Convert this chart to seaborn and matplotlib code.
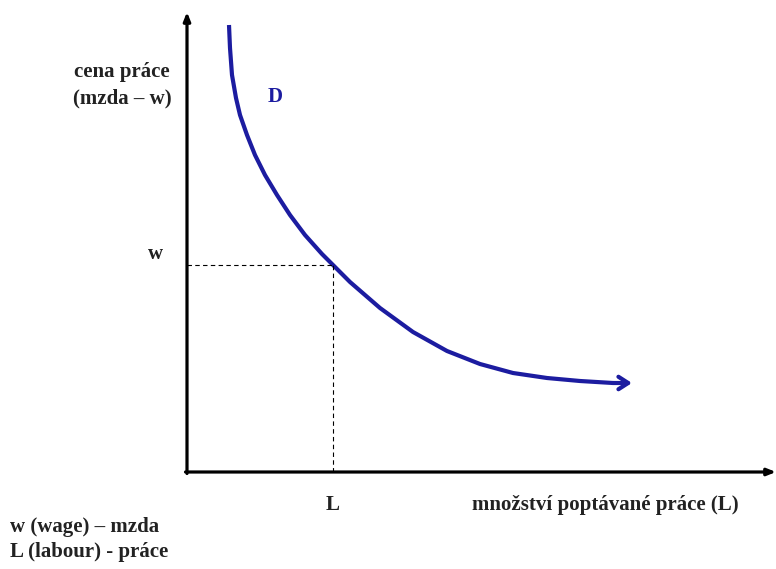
import matplotlib
matplotlib.use("Agg")
import matplotlib.pyplot as plt
import seaborn as sns
import pandas as pd

sns.set_style("white")
plt.rcParams['font.family'] = ['Liberation Serif', 'DejaVu Serif']

# Demand curve D (quantity of labour, wage) in chart units
labour = [42, 43, 45, 49, 53, 60, 68, 78, 90, 103, 118, 135, 146, 163, 193,
          226, 260, 293, 326, 360, 393, 426, 445]
wage = [447, 424, 397, 374, 357, 337, 317, 297, 277, 257, 237, 218, 207, 190,
        164, 140, 121, 108, 99, 94, 91, 89, 89]
eq_L = 146
eq_w = 207
y_axis_top = 460
x_axis_right = 589

curve_color = "#1c1ca0"

fig = plt.figure(figsize=(7.76, 5.69), dpi=100)
ax = fig.add_axes([0, 0, 1, 1])
ax.set_xlim(-187, 589)
ax.set_ylim(-97, 472)
ax.axis('off')

df = pd.DataFrame({"L": labour[:-1], "w": wage[:-1]})
sns.lineplot(data=df, x="L", y="w", sort=False, color=curve_color, lw=3.0,
             ax=ax, solid_capstyle="butt", solid_joinstyle="round")
ax.annotate("", xy=(labour[-1], wage[-1]), xytext=(labour[-2], wage[-2]),
            arrowprops=dict(arrowstyle="->,head_length=0.7,head_width=0.45",
                            color=curve_color, lw=3.0, shrinkA=0, shrinkB=0))

# axes with arrows
ax.annotate("", xy=(0, y_axis_top), xytext=(0, -1.5),
            arrowprops=dict(arrowstyle="-|>,head_length=0.5,head_width=0.2",
                            color="black", lw=2.3, shrinkA=0, shrinkB=0))
ax.annotate("", xy=(x_axis_right, 0), xytext=(-1.5, 0),
            arrowprops=dict(arrowstyle="-|>,head_length=0.5,head_width=0.2",
                            color="black", lw=2.3, shrinkA=0, shrinkB=0))

# dashed guides
ax.plot([0, eq_L], [eq_w, eq_w], ls=(0, (4, 3)), color="black", lw=0.8)
ax.plot([eq_L, eq_L], [0, eq_w], ls=(0, (4, 3)), color="black", lw=0.8)

tk = dict(fontweight="bold", fontsize=15, color="#222222")
ax.text(-65, 400, "cena práce", ha="center", va="center", **tk)
ax.text(-65, 374, "(mzda – w)", ha="center", va="center", **tk)
ax.text(-32, 218, "w", ha="center", va="center", **tk)
ax.text(eq_L, -33, "L", ha="center", va="center", **tk)
ax.text(418, -33, "množství poptávané práce (L)", ha="center", va="center", **tk)
ax.text(-177, -55, "w (wage) – mzda", ha="left", va="center", **tk)
ax.text(-177, -80, "L (labour) - práce", ha="left", va="center", **tk)
ax.text(88, 375, "D", ha="center", va="center", fontweight="bold",
        fontsize=15, color=curve_color)

fig.savefig("out.png", dpi=100)
